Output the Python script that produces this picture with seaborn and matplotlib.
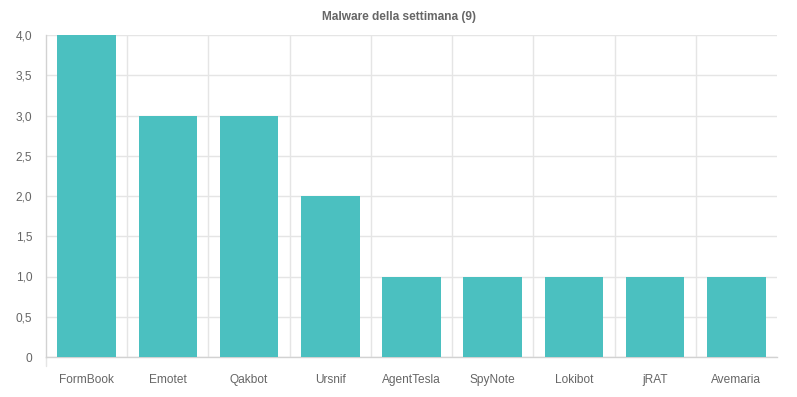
import numpy as np
import pandas as pd
import matplotlib
matplotlib.use("Agg")
import matplotlib.pyplot as plt
import seaborn as sns
from matplotlib.ticker import FixedLocator, FuncFormatter

# ---------------------------------------------------------------------------
# Data
# ---------------------------------------------------------------------------
malware = ["FormBook", "Emotet", "Qakbot", "Ursnif", "AgentTesla",
           "SpyNote", "Lokibot", "jRAT", "Avemaria"]
counts = [4, 3, 3, 2, 1, 1, 1, 1, 1]
y_ticks = [0, 0.5, 1.0, 1.5, 2.0, 2.5, 3.0, 3.5, 4.0]

TITLE = "Malware della settimana (9)"
BAR_COLOR = "#4bc0c0"
TEXT_COLOR = "#666666"
GRID_COLOR = "#e5e5e5"
AXIS_COLOR = "#d2d2d2"

sns.set_style("white")
plt.rcParams["font.family"] = ["Liberation Sans", "DejaVu Sans"]

df = pd.DataFrame({"malware": malware, "count": counts})

W, H = 797, 397
fig = plt.figure(figsize=(W / 100, H / 100), dpi=100)
ax = fig.add_axes([46 / W, (H - 357) / H, (777 - 46) / W, (357 - 35) / H])

sns.barplot(data=df, x="malware", y="count", color=BAR_COLOR, saturation=1,
            width=0.72, ax=ax, zorder=3)
for p in ax.patches:
    p.set_edgecolor(BAR_COLOR)
    p.set_linewidth(0)

n = len(malware)
ax.set_xlim(-0.5, n - 0.5)
ax.set_ylim(0, 4)

# y axis
ax.yaxis.set_major_locator(FixedLocator(y_ticks))
ax.yaxis.set_major_formatter(FuncFormatter(
    lambda v, _: "0" if v == 0 else f"{v:.1f}".replace(".", ",")))
ax.tick_params(axis="y", which="major", length=8, width=1, color=GRID_COLOR,
               pad=2, labelsize=8.6, labelcolor=TEXT_COLOR)
ax.yaxis.grid(True, color=GRID_COLOR, linewidth=1, zorder=0)

# x axis: labels at centres, grid/ticks at category boundaries
ax.xaxis.set_major_locator(FixedLocator(np.arange(n)))
ax.set_xticklabels(malware)
ax.tick_params(axis="x", which="major", length=0, pad=12, labelsize=8.6,
               labelcolor=TEXT_COLOR)
ax.xaxis.set_minor_locator(FixedLocator(np.arange(n - 1) + 0.5))
ax.tick_params(axis="x", which="minor", length=9, width=1, color=GRID_COLOR)
ax.xaxis.grid(True, which="minor", color=GRID_COLOR, linewidth=1, zorder=0)
ax.xaxis.grid(False, which="major")

# left boundary tick below the axis
ax.plot([-0.5, -0.5], [0, -0.11], color=GRID_COLOR, lw=1, clip_on=False,
        zorder=1)

for side in ["top", "right"]:
    ax.spines[side].set_visible(False)
for side in ["left", "bottom"]:
    ax.spines[side].set_color(AXIS_COLOR)
    ax.spines[side].set_linewidth(1)

ax.set_xlabel("")
ax.set_ylabel("")

fig.text(0.5, 1 - 17 / H, TITLE, ha="center", va="center", fontsize=8.6,
         fontweight="bold", color=TEXT_COLOR)

fig.savefig("out.png", dpi=100)
